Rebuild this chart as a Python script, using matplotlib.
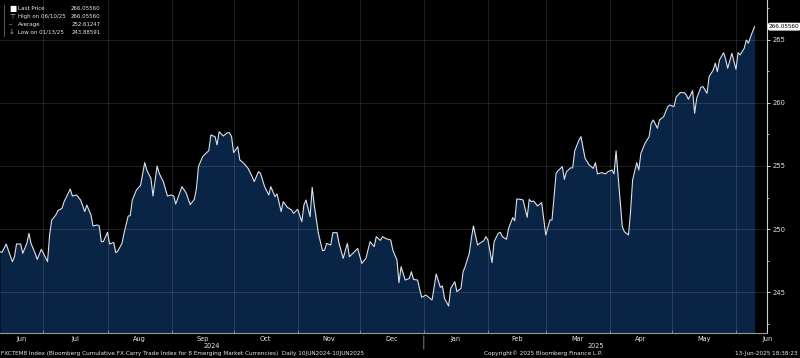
import matplotlib
matplotlib.use("Agg")
import matplotlib.pyplot as plt
import matplotlib.dates as mdates
from matplotlib import font_manager
from matplotlib.ticker import MultipleLocator
import pandas as pd
import os

# ---------------- data ----------------
start_date = "2024-06-10"
day_offsets = [
    0, 1, 3, 4, 6, 7, 8, 10, 11, 13, 14, 15, 17, 18, 20, 21, 23, 24, 25, 27,
    28, 30, 31, 34, 35, 37, 39, 41, 42, 44, 45, 47, 48, 49, 50, 52, 53, 55, 56, 57,
    59, 60, 62, 63, 64, 66, 68, 70, 71, 73, 74, 76, 77, 79, 81, 83, 84, 85, 88, 90,
    92, 94, 95, 96, 98, 101, 102, 104, 105, 106, 108, 110, 111, 112, 113, 115, 116, 118, 120, 122,
    123, 125, 126, 128, 130, 131, 133, 134, 136, 137, 139, 141, 142, 144, 146, 147, 148, 150, 151, 152,
    154, 156, 157, 158, 160, 161, 163, 164, 166, 168, 169, 171, 173, 175, 177, 179, 181, 182, 184, 185,
    187, 189, 190, 192, 193, 194, 196, 198, 199, 200, 202, 203, 204, 206, 208, 209, 210, 211, 213, 214,
    215, 217, 218, 220, 221, 223, 224, 225, 227, 228, 229, 231, 232, 234, 235, 236, 238, 239, 241, 242,
    243, 245, 246, 248, 249, 250, 252, 253, 255, 256, 257, 258, 259, 260, 262, 264, 266, 267, 269, 270,
    272, 273, 274, 276, 277, 278, 280, 281, 283, 284, 285, 287, 288, 289, 291, 293, 294, 296, 297, 298,
    299, 301, 302, 304, 305, 306, 308, 309, 310, 312, 314, 315, 316, 318, 319, 321, 323, 324, 326, 327,
    329, 331, 332, 333, 335, 336, 337, 339, 340, 342, 343, 345, 346, 347, 348, 350, 351, 352, 354, 356,
    357, 358, 360, 361, 362, 364, 365,
]
values = [
    248.20, 248.15, 248.81, 248.33, 247.41, 247.80, 248.81, 248.81, 248.07, 248.86,
    249.66, 248.86, 248.07, 247.59, 248.39, 248.07, 247.41, 249.52, 250.71, 251.11,
    251.46, 251.64, 252.17, 253.17, 252.62, 252.70, 252.30, 251.38, 251.90, 251.11,
    250.24, 250.32, 250.24, 249.00, 249.00, 249.74, 248.81, 248.94, 248.12, 248.25,
    248.86, 249.66, 251.03, 251.06, 252.30, 253.10, 253.47, 255.27, 254.68, 254.02,
    252.62, 255.00, 254.42, 253.76, 252.62, 252.70, 252.62, 251.98, 253.36, 252.88,
    251.93, 252.35, 253.20, 254.95, 255.74, 256.22, 257.46, 257.33, 256.67, 257.72,
    257.38, 257.64, 257.64, 257.33, 256.06, 256.53, 255.48, 255.21, 254.81, 254.15,
    253.76, 254.55, 254.42, 253.36, 252.70, 253.36, 252.57, 252.78, 251.38, 252.17,
    251.72, 251.51, 251.24, 251.56, 250.58, 251.90, 252.30, 250.98, 253.31, 251.90,
    249.66, 248.28, 248.33, 248.86, 248.73, 249.71, 249.71, 248.86, 247.67, 248.86,
    247.80, 248.12, 248.46, 247.27, 247.67, 248.99, 248.60, 249.39, 249.10, 249.39,
    249.22, 249.13, 248.33, 247.54, 245.74, 247.01, 245.95, 246.08, 246.61, 246.00,
    245.95, 245.21, 244.58, 244.76, 244.50, 244.37, 245.42, 246.43, 245.37, 245.48,
    244.50, 243.88591, 245.29, 245.82, 245.03, 245.29, 246.61, 247.01, 248.07, 249.26,
    250.24, 248.73, 248.86, 249.07, 249.39, 249.13, 247.33, 248.99, 249.66, 249.74,
    249.39, 249.18, 250.05, 250.90, 250.66, 252.38, 252.35, 252.30, 250.93, 252.35,
    252.17, 252.22, 252.04, 251.83, 252.09, 249.52, 250.71, 250.71, 254.42, 254.63,
    254.95, 253.94, 254.55, 254.85, 254.85, 256.20, 257.03, 257.33, 255.61, 255.34,
    255.08, 254.81, 255.26, 254.37, 254.47, 254.37, 254.55, 254.68, 254.37, 256.19,
    254.15, 250.19, 249.79, 249.52, 251.38, 253.89, 255.26, 254.68, 256.00, 256.80,
    257.33, 258.39, 258.65, 257.99, 258.65, 258.91, 259.71, 259.84, 259.71, 260.45,
    260.82, 260.82, 260.63, 260.29, 260.98, 259.18, 260.37, 261.24, 261.30, 260.77,
    262.09, 262.62, 263.15, 262.49, 263.41, 263.99, 263.47, 262.75, 263.94, 262.67,
    263.99, 263.81, 264.34, 265.00, 264.74, 265.66, 266.05560,
]

legend_labels = ["Last Price", "High on 06/10/25", "Average", "Low on 01/13/25"]
legend_values = [266.05560, 266.05560, 252.61247, 243.88591]
legend_symbols = ["\u25A0", "\u22A4", "\u2013", "\u2193"]

y_ticks = [245, 250, 255, 260, 265]
footer_left = ("FXCTEM8 Index (Bloomberg Cumulative FX Carry Trade Index for 8 Emerging "
               "Market Currencies)  Daily 10JUN2024-10JUN2025")
footer_mid = "Copyright\u00A9 2025 Bloomberg Finance L.P."
footer_right = "13-Jun-2025 18:38:23"

# ---------------- font: a condensed sans if one is installed ----------------
cond_file = None
prefs = ["liberationsansnarrow-regular", "dejavusanscondensed.ttf", "robotocondensed-regular"]
files = [f.fname for f in font_manager.fontManager.ttflist]
for p in prefs:
    hits = [f for f in files if os.path.basename(f).lower().startswith(p)]
    if hits:
        cond_file = hits[0]
        break
if cond_file is not None:
    FP = dict(fontproperties=font_manager.FontProperties(fname=cond_file))
    k = 1.0
else:
    FP = dict(family="Liberation Sans")
    k = 0.9


def tp(size):
    d = dict(FP)
    if "fontproperties" in d:
        p = d["fontproperties"].copy()
        p.set_size(size * k)
        d["fontproperties"] = p
    else:
        d["fontsize"] = size * k
    return d


BG = "black"
FILL = "#0a2446"
LINE = "#dbe3ec"
TXT = "#e6e6e6"

W, H = 800, 358
fig = plt.figure(figsize=(W / 100, H / 100), dpi=100, facecolor=BG)
ax = fig.add_axes([0, 25 / H, 767 / W, 333 / H])
ax.set_facecolor(BG)

t0 = pd.Timestamp(start_date)
dates = t0 + pd.to_timedelta(day_offsets, unit="D")
ymin, ymax = 241.75, 268.17
xmin, xmax = t0, pd.Timestamp("2025-06-16")

ax.fill_between(dates, values, ymin, color=FILL, lw=0, zorder=1)
ax.plot(dates, values, color=LINE, lw=0.8, zorder=4)
ax.set_xlim(xmin, xmax)
ax.set_ylim(ymin, ymax)

# grid
ax.set_yticks(y_ticks)
ax.yaxis.set_minor_locator(MultipleLocator(2.5))
ax.xaxis.set_major_locator(mdates.MonthLocator())
ax.xaxis.set_major_formatter(plt.NullFormatter())
ax.grid(True, which="major", color="white", alpha=0.14, lw=0.6, zorder=3)

# spines
for s in ["top", "left"]:
    ax.spines[s].set_visible(False)
ax.spines["right"].set_color("#d0d0d0")
ax.spines["right"].set_linewidth(0.8)
ax.spines["bottom"].set_color("#9a9a9a")
ax.spines["bottom"].set_linewidth(0.8)

ax.yaxis.tick_right()
ax.tick_params(axis="y", which="major", direction="out", length=2.5, width=0.7,
               color="#d0d0d0", labelcolor=TXT, pad=1.2)
ax.tick_params(axis="y", which="minor", direction="out", length=1.5, width=0.6,
               color="#d0d0d0")
ax.tick_params(axis="x", which="major", direction="in", length=2, width=0.5,
               color="#9a9a9a")
ax.tick_params(axis="x", which="minor", length=0)
ax.set_yticklabels([str(v) for v in y_ticks])
for lbl in ax.get_yticklabels():
    d = tp(5.4)
    if "fontproperties" in d:
        lbl.set_fontproperties(d["fontproperties"])
    else:
        lbl.set_fontsize(d["fontsize"])
        lbl.set_family(d["family"])

# month labels at the middle of each visible month
months = pd.date_range("2024-06-01", "2025-06-01", freq="MS")
for m in months:
    a = max(m, xmin)
    b = m + pd.offsets.MonthBegin(1)
    mid = a + (b - a) / 2
    ax.annotate(m.strftime("%b"), xy=(mid, 0), xycoords=("data", "axes fraction"),
                xytext=(0, -4.0), textcoords="offset points", ha="center", va="center",
                color=TXT, annotation_clip=False, **tp(5.2))

# year labels
jan1 = pd.Timestamp("2025-01-01")
for yr, a, b in [("2024", xmin, jan1), ("2025", jan1, xmax)]:
    ax.annotate(yr, xy=(a + (b - a) / 2, 0), xycoords=("data", "axes fraction"),
                xytext=(0, -9.3), textcoords="offset points", ha="center", va="center",
                color=TXT, annotation_clip=False, **tp(5.2))
ax.annotate("", xy=(jan1, 0), xycoords=("data", "axes fraction"),
            xytext=(jan1, -19 / 333), textcoords=("data", "axes fraction"),
            arrowprops=dict(arrowstyle="-", color="#9a9a9a", lw=0.6),
            annotation_clip=False)

# last price tag
ax.annotate(f"{values[-1]:.5f}", xy=(1, values[-1]), xycoords=("axes fraction", "data"),
            xytext=(1.5, 0), textcoords="offset points", ha="left", va="center",
            color="black", annotation_clip=False,
            bbox=dict(boxstyle="round,pad=0.12,rounding_size=0.3", fc="white", ec="white"),
            **tp(4.6))

# legend block (top-left)
def fx(px):
    return px / W

def fy(py):
    return 1 - py / H

fig.lines.append(plt.Line2D([fx(4), fx(4)], [fy(5), fy(36)], color="#6a6a6a", lw=0.6,
                            transform=fig.transFigure))
row_y = [8.5, 16.5, 24.5, 32.3]
for sym, lab, val, ry in zip(legend_symbols, legend_labels, legend_values, row_y):
    fig.text(fx(9), fy(ry), sym, color="white" if sym == "\u25A0" else "#bbbbbb",
             fontsize=5.5 if sym == "\u25A0" else 5, ha="left", va="center",
             family="DejaVu Sans")
    fig.text(fx(18), fy(ry), lab, color=TXT, ha="left", va="center", **tp(4.4))
    fig.text(fx(100.5), fy(ry), f"{val:.5f}", color=TXT, ha="right", va="center", **tp(4.3))

# footer
fig.text(fx(1), fy(353.5), footer_left, color=TXT, ha="left", va="center", **tp(4.55))
fig.text(fx(543), fy(353.5), footer_mid, color=TXT, ha="center", va="center", **tp(4.55))
fig.text(fx(798), fy(353.5), footer_right, color=TXT, ha="right", va="center", **tp(4.55))

fig.savefig("out.png", dpi=100, facecolor=BG)
